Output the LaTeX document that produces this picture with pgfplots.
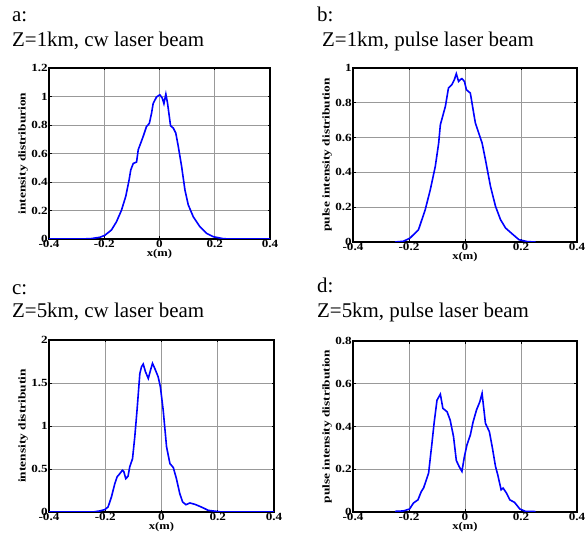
\documentclass[border=0pt]{standalone}
\usepackage{fontspec}
\setmainfont{Liberation Serif}
\usepackage{graphicx}
\usepackage{pgfplots}
\pgfplotsset{compat=1.18}

\newcommand{\wide}[1]{\scalebox{1.2}[1]{#1}}
\newcommand{\longer}[1]{\scalebox{1.28}[1]{#1}}

\pgfplotsset{
  panel/.style={
    scale only axis, anchor=south west,
    xmin=-0.4, xmax=0.4, xtick={-0.4,-0.2,0,0.2,0.4},
    grid=major, major grid style={gray!80, line width=0.6bp},
    axis line style={black, line width=1.1bp},
    tick align=inside, major tick length=2.5bp,
    tick style={black, line width=0.6bp},
    /pgf/number format/assume math mode=true,
    ticklabel style={font=\bfseries\fontsize{11}{12}\selectfont},
    xticklabel={\wide{\pgfmathprintnumber{\tick}}},
    yticklabel={\wide{\pgfmathprintnumber{\tick}}},
    xticklabel style={inner sep=1bp},
    yticklabel style={inner sep=1bp},
    label style={font=\bfseries\fontsize{10.5}{11}\selectfont},
    xlabel={\wide{x(m)}},
    xlabel style={yshift=3bp},
    ylabel style={yshift=-1bp},
    no marks,
  },
  beam/.style={blue, line width=1.6bp, mark=none},
}
\tikzset{ttl/.style={anchor=base west, font=\fontsize{21}{23}\selectfont, inner sep=0pt}}

\begin{document}
\begin{tikzpicture}
\useasboundingbox (0bp,0bp) rectangle (587bp,540bp);

% titles
\node[ttl] at (12bp,518bp) {a:};
\node[ttl] at (12bp,493bp) {Z=1km, cw laser beam};
\node[ttl] at (317bp,518bp) {b:};
\node[ttl] at (322bp,493bp) {Z=1km, pulse laser beam};
\node[ttl] at (12bp,245bp) {c:};
\node[ttl] at (12bp,222bp) {Z=5km, cw laser beam};
\node[ttl] at (317bp,247bp) {d:};
\node[ttl] at (317bp,222bp) {Z=5km, pulse laser beam};

% a
\begin{axis}[panel, at={(49bp,301bp)}, width=221bp, height=171bp,
  ymin=0, ymax=1.2, ytick={0,0.2,...,1.2},
  ylabel={\longer{intensity distriburion}}]
\addplot[beam] coordinates {
(-0.4,0)(-0.3,0)(-0.25,0.002)(-0.216,0.012)(-0.198,0.026)(-0.174,0.063)
(-0.156,0.12)(-0.138,0.20)(-0.122,0.30)(-0.110,0.415)(-0.104,0.485)
(-0.095,0.53)(-0.083,0.54)(-0.077,0.626)(-0.059,0.72)(-0.047,0.79)
(-0.037,0.81)(-0.029,0.88)(-0.023,0.95)(-0.011,0.996)(0.001,1.012)
(0.010,0.989)(0.016,0.95)(0.023,1.017)(0.029,0.954)(0.040,0.795)
(0.050,0.778)(0.059,0.743)(0.068,0.65)(0.080,0.51)(0.092,0.345)
(0.104,0.24)(0.122,0.157)(0.146,0.087)(0.170,0.04)(0.195,0.016)
(0.231,0.002)(0.26,0)(0.4,0)};
\end{axis}

% b
\begin{axis}[panel, at={(353bp,298bp)}, width=224bp, height=174bp,
  ymin=0, ymax=1, ytick={0,0.2,...,1},
  ylabel={\longer{pulse intensity distribution}}]
\addplot[beam] coordinates {
(-0.250,0)(-0.220,0.004)(-0.196,0.023)(-0.166,0.071)(-0.142,0.186)
(-0.124,0.30)(-0.106,0.435)(-0.094,0.569)(-0.088,0.674)(-0.070,0.78)
(-0.059,0.885)(-0.047,0.904)(-0.038,0.933)(-0.031,0.967)(-0.023,0.923)
(-0.017,0.933)(-0.011,0.939)(-0.002,0.923)(0.005,0.875)(0.019,0.856)
(0.029,0.76)(0.037,0.684)(0.049,0.626)(0.061,0.569)(0.073,0.473)
(0.091,0.32)(0.109,0.205)(0.127,0.128)(0.145,0.08)(0.169,0.046)
(0.193,0.013)(0.223,0.002)(0.252,0)};
\end{axis}

% c
\begin{axis}[panel, at={(49bp,28bp)}, width=225bp, height=172bp,
  ymin=0, ymax=2, ytick={0,0.5,...,2},
  ylabel={\longer{intensity distributin}}]
\addplot[beam] coordinates {
(-0.4,0)(-0.243,0)(-0.220,0.012)(-0.202,0.027)(-0.190,0.058)(-0.178,0.175)
(-0.166,0.33)(-0.158,0.408)(-0.148,0.447)(-0.139,0.485)(-0.134,0.47)
(-0.127,0.388)(-0.119,0.415)(-0.113,0.524)(-0.103,0.62)(-0.095,0.874)
(-0.087,1.184)(-0.077,1.61)(-0.071,1.689)(-0.065,1.72)(-0.057,1.631)
(-0.047,1.553)(-0.039,1.65)(-0.032,1.728)(-0.024,1.67)(-0.012,1.573)
(-0.004,1.456)(0.006,1.184)(0.018,0.757)(0.030,0.563)(0.042,0.517)
(0.053,0.388)(0.065,0.214)(0.075,0.117)(0.087,0.085)(0.101,0.105)
(0.119,0.089)(0.136,0.066)(0.154,0.039)(0.166,0.019)(0.184,0.012)
(0.214,0)(0.4,0)};
\end{axis}

% d
\begin{axis}[panel, at={(353bp,28bp)}, width=224bp, height=171bp,
  ymin=0, ymax=0.8, ytick={0,0.2,...,0.8},
  ylabel={\longer{pulse intensity distribution}}]
\addplot[beam] coordinates {
(-0.250,0.003)(-0.220,0.005)(-0.198,0.014)(-0.184,0.042)(-0.168,0.057)
(-0.156,0.096)(-0.148,0.112)(-0.130,0.182)(-0.118,0.322)(-0.110,0.42)
(-0.100,0.523)(-0.088,0.551)(-0.079,0.485)(-0.064,0.469)(-0.053,0.43)
(-0.041,0.353)(-0.031,0.241)(-0.021,0.213)(-0.011,0.19)(-0.002,0.26)
(0.007,0.314)(0.019,0.36)(0.029,0.422)(0.041,0.477)(0.053,0.516)
(0.061,0.555)(0.073,0.415)(0.087,0.376)(0.097,0.306)(0.109,0.213)
(0.117,0.174)(0.129,0.104)(0.136,0.112)(0.148,0.089)(0.160,0.057)
(0.177,0.045)(0.196,0.014)(0.216,0.003)(0.252,0.002)};
\end{axis}
\end{tikzpicture}
\end{document}
